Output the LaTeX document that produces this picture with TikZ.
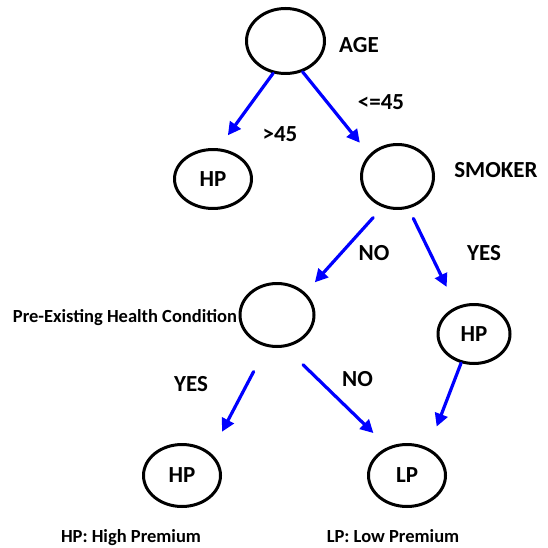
\documentclass[tikz,border=0pt]{standalone}
\usepackage{fontspec}
\setmainfont{Carlito}
\usetikzlibrary{shapes.geometric, arrows.meta}
\begin{document}
\begin{tikzpicture}[x=1pt, y=-1pt, line cap=round, line join=round,
    decision/.style={ellipse, draw=black, line width=3pt, inner sep=0pt, font=\fontsize{23}{27}\selectfont\bfseries},
    branch/.style={draw=blue, line width=3.2pt, -{Triangle[length=13pt, width=13pt]}},
    caption/.style={anchor=base, font=\fontsize{23}{27}\selectfont\bfseries},
    legend/.style={anchor=base, font=\fontsize{18.5}{22}\selectfont\bfseries}]
  \useasboundingbox (0,0) rectangle (547,548);
  % First layer
  \node [decision, minimum width=78, minimum height=65] (node-1-1) at (285.5, 41) {};
  % Second layer
  \node [decision, minimum width=77, minimum height=59] (node-2-1) at (213, 179) {HP};
  \node [decision, minimum width=72, minimum height=64] (node-2-2) at (397.5, 176.5) {};
  % Third layer
  \node [decision, minimum width=74, minimum height=63] (node-3-1) at (277, 315) {};
  \node [decision, minimum width=72, minimum height=59] (node-3-2) at (474, 334) {HP};
  % Fourth layer
  \node [decision, minimum width=77, minimum height=62] (node-4-1) at (182, 475.5) {HP};
  \node [decision, minimum width=77, minimum height=62] (node-4-2) at (407, 475.5) {LP};
  % Attribute and branch labels
  \node [caption] (label-age) at (359, 53) {AGE};
  \node [caption] (label-over) at (280, 142) {>45};
  \node [caption] (label-under) at (381, 110) {<=45};
  \node [caption] (label-smoker) at (496, 177) {SMOKER};
  \node [caption] (label-no-1) at (374, 260) {NO};
  \node [caption] (label-yes-1) at (484, 260) {YES};
  \node [legend] (label-health) at (125, 322) {Pre-Existing Health Condition};
  \node [caption] (label-yes-2) at (191, 391) {YES};
  \node [caption] (label-no-2) at (357.5, 386) {NO};
  % Legend
  \node [legend] (legend-hp) at (131, 542) {HP: High Premium};
  \node [legend] (legend-lp) at (393, 542) {LP: Low Premium};
  % First layer arrows
  \draw [branch, shorten >=16pt] (node-1-1.249) -- (node-2-1.80);
  \draw [branch, shorten >=15pt] (node-1-1.-61) -- (node-2-2.142);
  % Second layer arrows
  \draw [branch, shorten <=14pt, shorten >=14pt] (node-2-2.244) -- (node-3-1.38);
  \draw [branch, shorten <=11pt, shorten >=22pt] (node-2-2.-71) -- (node-3-2.123);
  % Third layer arrows
  \draw [branch, shorten <=28pt, shorten >=24pt] (node-3-1.-108) -- (node-4-1.38);
  \draw [branch, shorten <=25pt, shorten >=20pt] (node-3-1.-76) -- (node-4-2.124);
  \draw [branch, shorten >=23pt] (node-3-2.-114) -- (node-4-2.52);
\end{tikzpicture}
\end{document}
